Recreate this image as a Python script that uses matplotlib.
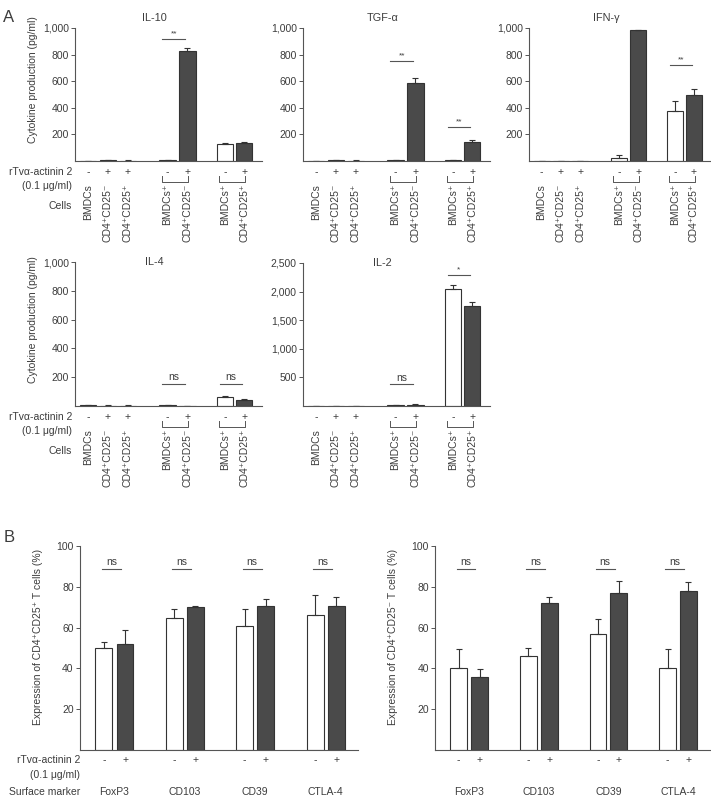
import matplotlib.pyplot as plt
from matplotlib.ticker import FuncFormatter
from matplotlib.transforms import blended_transform_factory

plt.rcParams["font.family"] = ["Liberation Sans", "DejaVu Sans"]

W, H = 711, 807
TXT = "#3c3c3c"
DARK = "#4a4a4a"
FS = 7.5

# === Panel A: cytokine production (pg/ml) ===
cell_labels = ["BMDCs", "CD4⁺CD25⁻", "CD4⁺CD25⁺", "BMDCs⁺", "CD4⁺CD25⁻", "BMDCs⁺", "CD4⁺CD25⁺"]
treat_signs = ["-", "+", "+", "-", "+", "-", "+"]
bar_pos = [0, 1, 2, 4, 5, 6.9, 7.85]
pairs = [(3, 4), (5, 6)]

il10 = [0, 4, 3, 5, 827, 128, 138]
il10_err = [0, 2, 1, 1, 20, 10, 4]
tgf = [0, 4, 3, 5, 586, 5, 140]
tgf_err = [0, 1, 1, 1, 40, 2, 18]
ifn = [0, 0, 0, 22, 987, 376, 493]
ifn_err = [0, 0, 0, 20, 0, 77, 50]
il4 = [5, 3, 3, 6, 0, 62, 44]
il4_err = [1, 1, 1, 1, 0, 10, 8]
il2 = [0, 0, 0, 18, 20, 2044, 1752]
il2_err = [0, 0, 0, 6, 10, 76, 65]

# significance marks: (left bar, right bar, height, text)
il10_sig = [(3, 4, 917, "**")]
tgf_sig = [(3, 4, 750, "**"), (5, 6, 255, "**")]
ifn_sig = [(5, 6, 719, "**")]
il4_sig = [(3, 4, 153, "ns"), (5, 6, 153, "ns")]
il2_sig = [(3, 4, 380, "ns"), (5, 6, 2295, "*")]

# === Panel B: surface markers (%) ===
markers = ["FoxP3", "CD103", "CD39", "CTLA-4"]
treg_ctrl = [50, 64.5, 61, 66]
treg_ctrl_err = [3, 4.5, 8, 10]
treg_rtv = [52, 70, 70.5, 70.5]
treg_rtv_err = [7, 0.8, 3.5, 4.5]
teff_ctrl = [40, 46, 57, 40]
teff_ctrl_err = [9.5, 4, 7, 9.5]
teff_rtv = [36, 72, 77, 78]
teff_rtv_err = [3.5, 3, 6, 4.5]
b_sig_height = 88.5

fig = plt.figure(figsize=(W / 100, H / 100), dpi=100, facecolor="white")


def add_ax(x0, y0, x1, y1):
    # pixel box, y measured from the top
    return fig.add_axes([x0 / W, 1 - y1 / H, (x1 - x0) / W, (y1 - y0) / H])


def style(ax, ticks, ymax):
    ax.set_ylim(0, ymax)
    ax.set_yticks(ticks)
    ax.yaxis.set_major_formatter(FuncFormatter(lambda v, p: f"{v:,.0f}"))
    ax.set_xticks([])
    for s in ["top", "right"]:
        ax.spines[s].set_visible(False)
    for s in ["left", "bottom"]:
        ax.spines[s].set_color("#555555")
        ax.spines[s].set_linewidth(0.8)
    ax.tick_params(axis="y", direction="out", length=3, width=0.7,
                   colors="#555555", labelcolor=TXT, labelsize=FS, pad=1.5)


def below(ax, x, px, text, **kw):
    ax.annotate(text, xy=(x, 0), xycoords=("data", "axes fraction"),
                xytext=(0, -px * 0.72), textcoords="offset points",
                fontsize=kw.pop("fontsize", FS), color=TXT, annotation_clip=False, **kw)


def cytokine_panel(box, vals, errs, sig, title, ticks, ymax, title_dy):
    ax = add_ax(*box)
    style(ax, ticks, ymax)
    ax.set_xlim(-0.65, 8.75)
    colors = ["white" if s == "-" else DARK for s in treat_signs]
    ax.bar(bar_pos, vals, width=0.82, color=colors, edgecolor="#333333", linewidth=0.8,
           yerr=[[0] * len(errs), errs], capsize=2.5,
           error_kw=dict(ecolor="#333333", elinewidth=0.8, capthick=0.8))
    for i, j, h, t in sig:
        x0, x1 = bar_pos[i] - 0.28, bar_pos[j] - 0.1
        ax.plot([x0, x1], [h, h], color="#555555", lw=0.8, clip_on=False)
        ax.text((x0 + x1) / 2, h + ymax * 0.012, t, ha="center", va="bottom",
                fontsize=6 if "*" in t else FS, color=TXT)
    ax.annotate(title, xy=(3.35, 1), xycoords=("data", "axes fraction"),
                xytext=(0, title_dy * 0.72), textcoords="offset points",
                ha="center", va="center", fontsize=FS + 0.3, color=TXT)
    hpx = ax.bbox.height
    tr = blended_transform_factory(ax.transData, ax.transAxes)
    for x, s, lab in zip(bar_pos, treat_signs, cell_labels):
        below(ax, x, 11, s, ha="center", va="center")
        below(ax, x, 23, lab, ha="center", va="top", rotation=90)
    for i, j in pairs:
        x0, x1 = bar_pos[i] - 0.3, bar_pos[j] + 0.05
        ax.plot([x0, x0, x1, x1], [-15 / hpx, -21 / hpx, -21 / hpx, -15 / hpx],
                transform=tr, color="#555555", lw=0.7, clip_on=False)
    return ax


row1_ticks = [200, 400, 600, 800, 1000]
cytokine_panel((75, 28, 262, 161), il10, il10_err, il10_sig, "IL-10", row1_ticks, 1000, 10)
cytokine_panel((303, 28, 490, 161), tgf, tgf_err, tgf_sig, "TGF-α", row1_ticks, 1000, 10)
cytokine_panel((529, 28, 711, 161), ifn, ifn_err, ifn_sig, "IFN-γ", row1_ticks, 1000, 10)
cytokine_panel((75, 262, 262, 406), il4, il4_err, il4_sig, "IL-4", row1_ticks, 1000, 0)
cytokine_panel((303, 263, 490, 406), il2, il2_err, il2_sig, "IL-2",
               [500, 1000, 1500, 2000, 2500], 2500, 0)

# row labels for panel A
for top in (161, 406):
    fig.text(72 / W, 1 - (top + 11) / H, "rTvα-actinin 2", ha="right", va="center", fontsize=FS, color=TXT)
    fig.text(72 / W, 1 - (top + 25) / H, "(0.1 μg/ml)", ha="right", va="center", fontsize=FS, color=TXT)
    fig.text(72 / W, 1 - (top + 45) / H, "Cells", ha="right", va="center", fontsize=FS, color=TXT)
fig.text(33 / W, 1 - 80 / H, "Cytokine production (pg/ml)", rotation=90,
         ha="center", va="center", fontsize=FS, color=TXT)
fig.text(33 / W, 1 - 320 / H, "Cytokine production (pg/ml)", rotation=90,
         ha="center", va="center", fontsize=FS, color=TXT)


def marker_panel(box, ctrl, ctrl_err, rtv, rtv_err, ylabel, label_x):
    ax = add_ax(*box)
    style(ax, [20, 40, 60, 80, 100], 100)
    ax.set_xlim(-0.49, 3.46)
    g = list(range(len(markers)))
    kw = dict(width=0.24, edgecolor="#333333", linewidth=0.8, capsize=2.5,
              error_kw=dict(ecolor="#333333", elinewidth=0.8, capthick=0.8))
    ax.bar([x - 0.15 for x in g], ctrl, color="white",
           yerr=[[0] * len(ctrl), ctrl_err], **kw)
    ax.bar([x + 0.15 for x in g], rtv, color=DARK,
           yerr=[[0] * len(rtv), rtv_err], **kw)
    for x, name in zip(g, markers):
        x0, x1 = x - 0.18, x + 0.09
        ax.plot([x0, x1], [b_sig_height, b_sig_height], color="#555555", lw=0.8)
        ax.text((x0 + x1) / 2, b_sig_height + 1.2, "ns", ha="center", va="bottom",
                fontsize=FS, color=TXT)
        below(ax, x - 0.15, 10, "-", ha="center", va="center")
        below(ax, x + 0.15, 10, "+", ha="center", va="center")
        below(ax, x, 42, name, ha="center", va="center")
    fig.text(label_x / W, 1 - 637 / H, ylabel, rotation=90, ha="center", va="center",
             fontsize=FS, color=TXT)
    return ax


marker_panel((80, 546, 358, 750), treg_ctrl, treg_ctrl_err, treg_rtv, treg_rtv_err,
             "Expression of CD4⁺CD25⁺ T cells (%)", 38)
marker_panel((435, 546, 710, 750), teff_ctrl, teff_ctrl_err, teff_rtv, teff_rtv_err,
             "Expression of CD4⁺CD25⁻ T cells (%)", 393)

fig.text(80 / W, 1 - 760 / H, "rTvα-actinin 2", ha="right", va="center", fontsize=FS, color=TXT)
fig.text(80 / W, 1 - 775 / H, "(0.1 μg/ml)", ha="right", va="center", fontsize=FS, color=TXT)
fig.text(80 / W, 1 - 792 / H, "Surface marker", ha="right", va="center", fontsize=FS, color=TXT)

fig.text(9 / W, 1 - 18 / H, "A", ha="center", va="center", fontsize=12, color=TXT)
fig.text(9 / W, 1 - 537 / H, "B", ha="center", va="center", fontsize=12, color=TXT)

fig.savefig("out.png", dpi=100, facecolor="white")
